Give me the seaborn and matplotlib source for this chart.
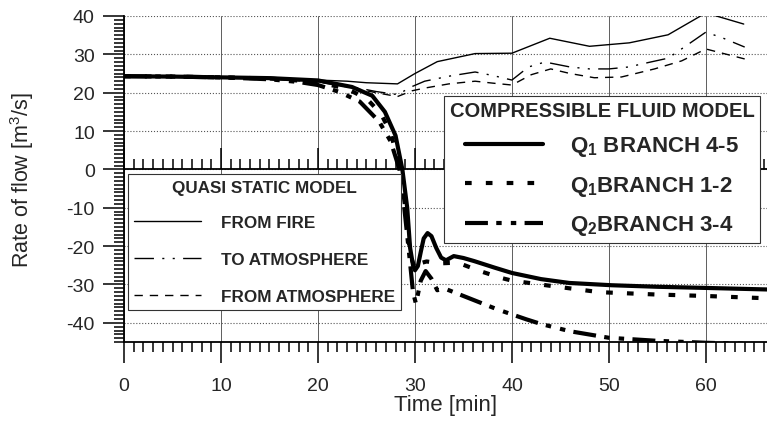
import numpy as np
import pandas as pd
import matplotlib
matplotlib.use("Agg")
import matplotlib.pyplot as plt
from matplotlib.ticker import MultipleLocator
import seaborn as sns

# quasi static model (thin lines)
t_fire = [0, 5, 10, 15, 20, 23, 25, 28.2, 30, 32.3, 36.2, 40, 43.9, 48, 52.1, 56.1, 60, 63.9]
q_fire = [24.3, 24.2, 24.0, 23.8, 23.3, 23.0, 22.6, 22.3, 25.0, 28.1, 30.2, 30.3, 34.2, 32.1, 33.0, 35.1, 40.8, 37.9]

t_to_atm = [0, 5, 10, 15, 20, 22, 24, 26, 28.2, 29.7, 31, 33.5, 36.2, 38, 40, 41.7, 43.4, 46, 48, 50, 52, 54.3, 56.1, 58, 60, 61.8, 64]
q_to_atm = [24.3, 24.2, 24.0, 23.6, 22.9, 22.2, 21.3, 20.3, 19.5, 21.6, 23.0, 24.3, 25.4, 24.5, 23.3, 26.7, 28.0, 26.7, 26.2, 26.2, 26.7, 28.0, 29.0, 32.3, 35.8, 34.2, 31.9]

t_from_atm = [0, 5, 10, 15, 20, 22, 24, 26, 28.2, 29.7, 31, 33.5, 36.2, 38, 40, 42, 44, 46, 48.5, 51.3, 54.7, 57.5, 60, 64]
q_from_atm = [24.3, 24.2, 24.0, 23.6, 22.8, 22.0, 21.0, 20.0, 19.0, 20.5, 21.2, 22.3, 23.0, 22.5, 22.0, 24.7, 26.2, 25.0, 23.9, 24.1, 26.2, 28.3, 31.4, 28.8]

# compressible fluid model (thick lines)
t_b45 = [0, 5, 10, 15, 20, 23.5, 25.6, 26.9, 28, 28.7, 29.2, 29.5, 29.8, 30.0, 30.3, 30.6, 30.9, 31.3, 31.7, 32.2, 32.7, 33.2, 34.0, 35.0, 36.1, 38.2, 40, 43, 45.9, 50.3, 55, 60, 66.3]
q_b45 = [24.3, 24.2, 24.0, 23.8, 23.2, 21.5, 19.2, 15.0, 8.8, 0, -10, -20.5, -25.0, -26.3, -25.2, -21.5, -18.0, -16.6, -17.4, -20.5, -23.0, -23.7, -22.6, -23.1, -23.9, -25.6, -27.0, -28.6, -29.6, -30.2, -30.6, -30.9, -31.3]

t_b12 = [0, 5, 10, 15, 20, 23, 25, 26.5, 27.5, 28.5, 29.0, 29.5, 30.0, 30.5, 31.2, 32.5, 34.4, 36.7, 38.9, 40, 44.1, 49, 54.7, 60, 66.3]
q_b12 = [24.3, 24.2, 24.0, 23.7, 22.8, 21.0, 18.5, 14.5, 9.5, 0, -10, -22, -26, -24.5, -24.0, -24.5, -24.3, -26.5, -28.3, -29.0, -30.4, -32.0, -32.6, -33.0, -33.6]

t_b34 = [0, 5, 10, 15, 18, 20, 22.2, 24.3, 26.3, 27.5, 28.4, 28.9, 29.4, 29.8, 30.1, 30.6, 31.1, 31.7, 32.3, 33.0, 34.0, 35.5, 37, 38.5, 40, 41.5, 43, 46, 50, 55, 60, 66.3]
q_b34 = [24.3, 24.2, 24.0, 23.5, 22.8, 22.0, 20.2, 17.7, 12.5, 7.3, 0, -10, -22, -32, -35, -29, -26.5, -28.5, -31.5, -31.0, -32.0, -33.5, -35.0, -36.5, -37.8, -39.1, -40.3, -42.2, -43.9, -44.7, -45.2, -45.6]

sns.set_style("ticks")
plt.rcParams['font.family'] = ['Liberation Sans', 'DejaVu Sans']
plt.rcParams['mathtext.default'] = 'regular'
plt.rcParams['axes.unicode_minus'] = False

fig = plt.figure(figsize=(7.67, 4.27), dpi=100)
ax = fig.add_axes([0.1617, 0.1967, 0.8383, 0.7635])

thin = 1.0
thick = 3.0
sns.lineplot(x=t_fire, y=q_fire, ax=ax, color='black', lw=thin, sort=False)
sns.lineplot(x=t_to_atm, y=q_to_atm, ax=ax, color='black', lw=thin, sort=False,
             linestyle=(0, (14, 6, 1.5, 6, 1.5, 6)))
sns.lineplot(x=t_from_atm, y=q_from_atm, ax=ax, color='black', lw=thin, sort=False,
             linestyle=(0, (6, 5)))
sns.lineplot(x=t_b45, y=q_b45, ax=ax, color='black', lw=thick, sort=False)
sns.lineplot(x=t_b12, y=q_b12, ax=ax, color='black', lw=thick, sort=False,
             linestyle=(0, (1.6, 3.4)))
sns.lineplot(x=t_b34, y=q_b34, ax=ax, color='black', lw=thick, sort=False,
             linestyle=(0, (5.5, 2, 1.3, 2.2, 1.3, 2)))
lines = ax.get_lines()

ax.set_xlim(0, 66.3)
ax.set_ylim(-45, 40)
ax.xaxis.set_major_locator(MultipleLocator(10))
ax.xaxis.set_minor_locator(MultipleLocator(1))
ax.yaxis.set_major_locator(MultipleLocator(10))
ax.yaxis.set_minor_locator(MultipleLocator(1))

ax.spines['right'].set_visible(False)
ax.spines['top'].set_position(('data', 0))
for s in ['left', 'bottom', 'top']:
    ax.spines[s].set_linewidth(1.3)
    ax.spines[s].set_color('black')
ax.xaxis.set_ticks_position('both')
ax.tick_params(axis='x', which='both', direction='out', top=True, labeltop=False,
               width=1.1, color='black')
ax.tick_params(axis='x', which='major', length=15, labelsize=14, pad=10)
ax.tick_params(axis='x', which='minor', length=7)
ax.tick_params(axis='y', which='both', direction='out', width=1.1, color='black')
ax.tick_params(axis='y', which='major', length=15, labelsize=14, pad=6)
ax.tick_params(axis='y', which='minor', length=7)

ax.grid(axis='x', which='major', color='#444444', lw=0.6, ls='-')
ax.grid(axis='y', which='major', color='#555555', lw=0.8, ls=':')
ax.set_axisbelow(True)

ax.set_xlabel("Time [min]", fontsize=16, labelpad=0)
ax.set_ylabel("Rate of flow [m$^3$/s]", fontsize=15.5, labelpad=22)

leg1 = ax.legend(lines[:3], ["FROM FIRE", "TO ATMOSPHERE", "FROM ATMOSPHERE"],
                 title="QUASI STATIC MODEL", loc='upper left', bbox_to_anchor=(0.0062, 0.515),
                 borderaxespad=0, frameon=True, fancybox=False, framealpha=1,
                 edgecolor='#333333', prop={'weight': 'bold', 'size': 12.3},
                 title_fontproperties={'weight': 'bold', 'size': 12.3},
                 handlelength=3.9, handletextpad=1.2, labelspacing=1.3, borderpad=0.35)
leg1.get_frame().set_linewidth(0.8)
leg1._legend_box.sep = 14
ax.add_artist(leg1)

leg2 = ax.legend(lines[3:], ["Q$_1$ BRANCH 4-5", "Q$_1$BRANCH 1-2", "Q$_2$BRANCH 3-4"],
                 title="COMPRESSIBLE FLUID MODEL", loc='upper left', bbox_to_anchor=(0.498, 0.755),
                 borderaxespad=0, frameon=True, fancybox=False, framealpha=1,
                 edgecolor='#333333', prop={'weight': 'bold', 'size': 16},
                 title_fontproperties={'weight': 'bold', 'size': 14.5},
                 handlelength=3.5, handletextpad=1.2, labelspacing=0.7, borderpad=0.25)
leg2.get_frame().set_linewidth(0.8)
leg2._legend_box.sep = 10

fig.savefig("out.png", dpi=100)
